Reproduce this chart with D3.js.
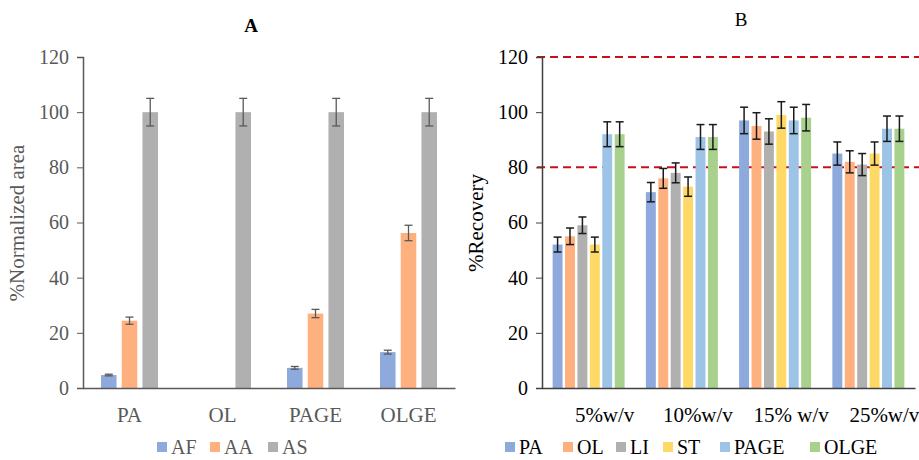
<!DOCTYPE html>
<html>
<head>
<meta charset="utf-8">
<script src="https://cdn.jsdelivr.net/npm/d3@7"></script>
<style>
  body { margin: 0; background: #fff; }
  svg { font-family: "Liberation Serif", "Times New Roman", serif; }
</style>
</head>
<body>
<div id="chart"></div>
<script>
// panel A data
var catsA = ['PA', 'OL', 'PAGE', 'OLGE'];
var seriesA = ['AF', 'AA', 'AS'];
var valsAF = [4.7, 0, 7.3, 13];
var valsAA = [24.4, 0, 27, 56.2];
var valsAS = [100, 100, 100, 100];
var errAF = [0.3, 0, 0.5, 0.7];
var errAA = [1.3, 0, 1.5, 2.8];
var errAS = [5, 5, 5, 5];

// panel B data
var catsB = ['5%w/v', '10%w/v', '15% w/v', '25%w/v'];
var seriesB = ['PA', 'OL', 'LI', 'ST', 'PAGE', 'OLGE'];
var valsPA = [52, 71, 97, 85];
var valsOL = [55, 76, 95, 82];
var valsLI = [59, 78, 93, 81];
var valsST = [52, 73, 99, 85];
var valsPAGE = [92, 91, 97, 94];
var valsOLGE = [92, 91, 98, 94];
var errPA = [2.7, 3.5, 4.8, 4.2];
var errOL = [3, 3.6, 4.8, 4];
var errLI = [3, 3.6, 4.6, 4];
var errST = [2.7, 3.5, 4.8, 4.2];
var errPAGE = [4.5, 4.5, 4.8, 4.6];
var errOLGE = [4.5, 4.5, 4.8, 4.6];
var refLines = [120, 80];

var yTicks = [0, 20, 40, 60, 80, 100, 120];

var w = 919, h = 460;
var svg = d3.select('#chart').append('svg')
  .attr('width', w)
  .attr('height', h);

var y = d3.scaleLinear().domain([0, 120]).range([388, 57]);

function panel(opt) {
  var g = svg.append('g');
  var x0 = d3.scaleBand().domain(opt.cats).range([opt.x0, opt.x1]).paddingInner(0).paddingOuter(0);
  var inner = opt.groupWidth;
  var x1 = d3.scaleBand().domain(opt.series).range([0, inner]).paddingInner(opt.barPad);

  // reference lines (behind bars)
  (opt.refs || []).forEach(function(v) {
    g.append('line')
      .attr('x1', opt.x0 - 5).attr('x2', w)
      .attr('y1', y(v)).attr('y2', y(v))
      .attr('stroke', '#C8101A')
      .attr('stroke-width', 2)
      .attr('stroke-dasharray', '8,5');
  });

  opt.series.forEach(function(s, si) {
    var vals = opt.vals[si], errs = opt.errs[si];
    opt.cats.forEach(function(c, ci) {
      var bx = x0(c) + (x0.bandwidth() - inner) / 2 + x1(s);
      if (vals[ci] > 0) {
        g.append('rect')
          .attr('x', bx).attr('y', y(vals[ci]))
          .attr('width', x1.bandwidth())
          .attr('height', y(0) - y(vals[ci]))
          .attr('fill', opt.colors[si]);
      }
      if (errs[ci] > 0) {
        var cx = bx + x1.bandwidth() / 2;
        var top = y(vals[ci] + errs[ci]), bot = y(vals[ci] - errs[ci]);
        var eg = g.append('g').attr('stroke', opt.errColor).attr('stroke-width', opt.errWidth);
        eg.append('line').attr('x1', cx).attr('x2', cx).attr('y1', top).attr('y2', bot);
        eg.append('line').attr('x1', cx - 4).attr('x2', cx + 4).attr('y1', top).attr('y2', top);
        eg.append('line').attr('x1', cx - 4).attr('x2', cx + 4).attr('y1', bot).attr('y2', bot);
      }
    });
  });

  // y axis
  var ya = g.append('g')
    .attr('transform', 'translate(' + opt.x0 + ',0)')
    .call(d3.axisLeft(y).tickValues(yTicks).tickSize(6).tickPadding(8));
  ya.select('.domain').attr('stroke', opt.axisColor).attr('stroke-width', 1.5);
  ya.selectAll('.tick line').attr('stroke', opt.axisColor);
  ya.selectAll('.tick text')
    .attr('fill', opt.textColor)
    .style('font-size', '20px')
    .style('font-family', '"Liberation Serif", serif');

  // x axis
  var xa = g.append('g')
    .attr('transform', 'translate(0,' + y(0) + ')')
    .call(d3.axisBottom(x0).tickSize(0).tickPadding(19));
  xa.select('.domain').attr('stroke', opt.axisColor).attr('stroke-width', 1.5);
  xa.selectAll('.tick text')
    .attr('fill', opt.textColor)
    .attr('dx', opt.labelDx)
    .style('font-size', '21px')
    .style('font-family', '"Liberation Serif", serif');

  // title
  g.append('text')
    .attr('x', opt.titleX).attr('y', opt.titleY)
    .attr('text-anchor', 'middle')
    .attr('font-size', '19px')
    .attr('font-weight', opt.titleBold ? 'bold' : 'normal')
    .attr('fill', '#000')
    .text(opt.title);

  // y label
  g.append('text')
    .attr('transform', 'translate(' + opt.ylabX + ',223) rotate(-90)')
    .attr('text-anchor', 'middle')
    .attr('font-size', '21px')
    .attr('fill', opt.textColor)
    .text(opt.ylab);

  // legend
  var lg = g.append('g');
  opt.series.forEach(function(s, si) {
    var lx = opt.legendX[si];
    lg.append('rect')
      .attr('x', lx).attr('y', 442)
      .attr('width', 10).attr('height', 10)
      .attr('fill', opt.colors[si]);
    lg.append('text')
      .attr('x', lx + 14).attr('y', 454)
      .attr('font-size', '20px')
      .attr('fill', opt.textColor)
      .text(s);
  });
}

panel({
  cats: catsA, series: seriesA,
  vals: [valsAF, valsAA, valsAS],
  errs: [errAF, errAA, errAS],
  colors: ['#8EA9DB', '#FFB07F', '#B0B0B0'],
  x0: 83, x1: 455, groupWidth: 57, barPad: 0.25,
  errColor: '#595959', errWidth: 1.3,
  axisColor: '#595959', textColor: '#595959',
  labelDx: 0,
  title: 'A', titleX: 251, titleY: 32, titleBold: true,
  ylab: '%Normalized area', ylabX: 24,
  legendX: [157, 210, 268]
});

panel({
  cats: catsB, series: seriesB,
  vals: [valsPA, valsOL, valsLI, valsST, valsPAGE, valsOLGE],
  errs: [errPA, errOL, errLI, errST, errPAGE, errOLGE],
  colors: ['#8EA9DB', '#FFB07F', '#B0B0B0', '#FFD966', '#9DC3E6', '#A9D18E'],
  x0: 542, x1: 915, groupWidth: 72, barPad: 0.2,
  errColor: '#1a1a1a', errWidth: 1.5,
  axisColor: '#404040', textColor: '#000',
  labelDx: 16,
  refs: refLines,
  title: 'B', titleX: 741, titleY: 26, titleBold: false,
  ylab: '%Recovery', ylabX: 483,
  legendX: [505, 563, 616, 663, 720, 810]
});
</script>
</body>
</html>
